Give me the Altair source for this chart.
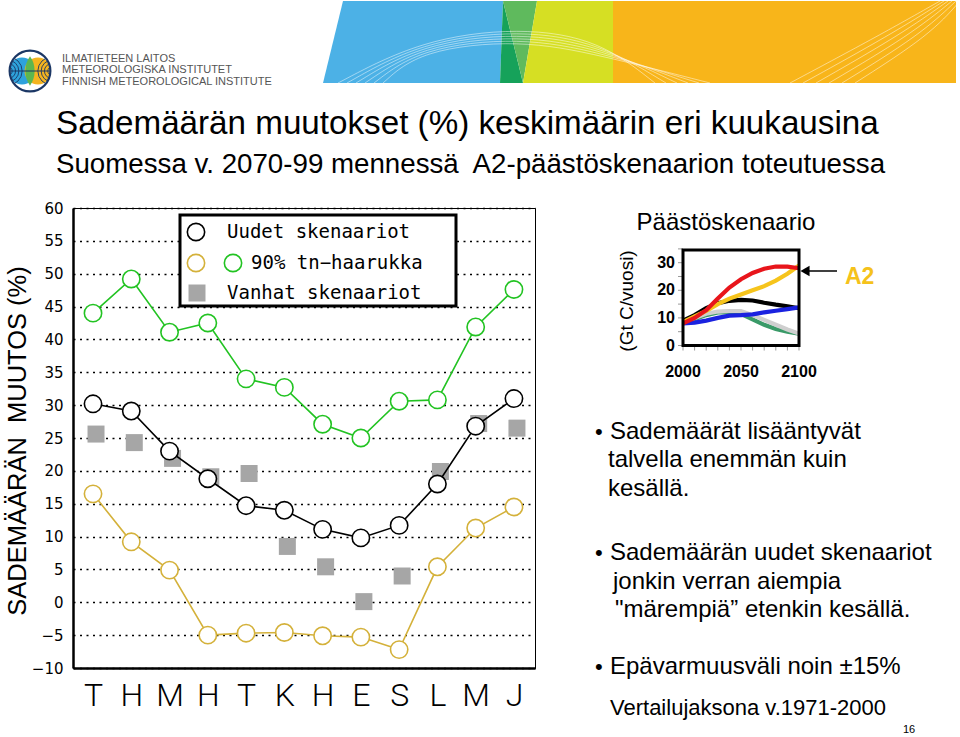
import json
import altair as alt
import pandas as pd

# ---------------- data ----------------
months = ["T", "H", "M", "H", "T", "K", "H", "E", "S", "L", "M", "J"]
month_num = list(range(1, 13))
new_scen = [30.2, 29.1, 23.0, 18.8, 14.7, 14.0, 11.1, 9.8, 11.7, 18.0, 26.8, 31.0]
upper90 = [44.0, 49.2, 41.1, 42.5, 34.0, 32.7, 27.1, 25.0, 30.6, 30.8, 41.9, 47.6]
lower90 = [16.5, 9.2, 4.9, -5.0, -4.7, -4.6, -5.1, -5.3, -7.2, 5.4, 11.3, 14.5]
old_scen = [25.6, 24.3, 21.9, 19.1, 19.6, 8.5, 5.4, 0.1, 4.0, 19.9, 27.2, 26.5]
y_ticks = list(range(-10, 61, 5))

years = [2000, 2010, 2020, 2030, 2040, 2050, 2060, 2070, 2080, 2090, 2100]
em_green = [8.5, 9.5, 11.0, 12.0, 12.0, 11.5, 9.5, 7.5, 6.0, 5.0, 4.3]
em_gray = [8.7, 10.0, 11.5, 12.3, 12.5, 12.5, 11.0, 9.3, 7.5, 5.8, 4.3]
em_black = [9.0, 11.0, 13.5, 15.3, 16.2, 16.5, 16.3, 15.5, 14.8, 14.2, 13.5]
em_blue = [8.0, 8.3, 9.0, 10.0, 10.8, 11.0, 11.3, 12.0, 12.6, 13.2, 13.8]
em_yellow = [8.5, 10.5, 12.5, 15.0, 17.0, 18.5, 20.0, 21.5, 23.5, 26.0, 29.0]
em_red = [8.0, 10.0, 12.8, 17.0, 21.0, 24.0, 26.3, 27.8, 28.6, 28.6, 28.0]
inset_y_ticks = [0, 10, 20, 30]
inset_minor_y = [0, 5, 10, 15, 20, 25, 30, 35]
inset_x_ticks = [2000, 2050, 2100]
inset_minor_x = [2000, 2010, 2020, 2030, 2040, 2050, 2060, 2070, 2080, 2090, 2100]

NB = "\u00a0"
title_lines = ["Sademäärän muutokset (%) keskimäärin eri kuukausina",
               "Suomessa v. 2070-99 mennessä" + NB + " A2-päästöskenaarion toteutuessa"]
y_title = "SADEMÄÄRÄN" + NB + " MUUTOS (%)"
legend_labels = ["Uudet skenaariot", "90% tn\u2212haarukka", "Vanhat skenaariot"]
bullet_lines = [
    ["Sademäärät lisääntyvät", "talvella enemmän kuin", "kesällä."],
    ["Sademäärän uudet skenaariot", "jonkin verran aiempia", "\"märempiä\u201d etenkin kesällä."],
    ["Epävarmuusväli noin ±15%"],
]
footnote = "Vertailujaksona v.1971-2000"
logo_lines = ["ILMATIETEEN LAITOS", "METEOROLOGISKA INSTITUTET", "FINNISH METEOROLOGICAL INSTITUTE"]

# ---------------- layout ----------------
X0, Y0 = 73, 208
W, H = 462, 460
SANS = "Liberation Sans, Arial, sans-serif"


def px(x):
    return x - X0


def py(y):
    return y - Y0


def one():
    return pd.DataFrame({"k": [0]})


def txt(text, x, y, size, font=SANS, weight="normal", color="black",
        align="left", baseline="middle", angle=0):
    kw = dict(align=align, baseline=baseline, fontSize=size, font=font,
              fontWeight=weight, color=color)
    if angle:
        kw["angle"] = angle
    return alt.Chart(pd.DataFrame({"t": [text]})).mark_text(**kw).encode(
        x=alt.value(px(x)), y=alt.value(py(y)), text="t:N")


def dot(x, y, size, **kw):
    return alt.Chart(one()).mark_point(opacity=1, size=size, **kw).encode(
        x=alt.value(px(x)), y=alt.value(py(y)))


pxs = alt.Scale(domain=[0, 960], range=[-X0, 960 - X0], nice=False, zero=False)
pys = alt.Scale(domain=[0, 737], range=[-Y0, 737 - Y0], nice=False, zero=False)

layers = []

# ---- banner ----
banner = pd.DataFrame({
    "shape": ["blue", "blue", "dgreen", "dgreen", "mgreen", "mgreen", "ygreen", "ygreen", "orange", "orange"],
    "y": [1, 83] * 5,
    "xl": [343, 323, 503, 500, 503, 523, 537, 523, 613, 613],
    "xr": [503, 500, 503, 523, 537, 523, 613, 613, 956, 956],
})
layers.append(alt.Chart(banner).mark_area(orient="horizontal", opacity=1).encode(
    y=alt.Y("y:Q", scale=pys, axis=None),
    x=alt.X("xl:Q", scale=pxs, axis=None),
    x2="xr:Q",
    color=alt.Color("shape:N", legend=None, scale=alt.Scale(
        domain=["blue", "dgreen", "mgreen", "ygreen", "orange"],
        range=["#4cb1e6", "#16a25a", "#5fba5d", "#d6df23", "#f8b51a"])),
))
wave_rows = []
for k in range(6):
    pts = [(338 + 9 * k, 83), (420, 40 + 2 * k), (520, 27 + 2.5 * k), (600, 40 + 3 * k), (655 + 11 * k, 83)]
    for j, (a, b) in enumerate(pts):
        wave_rows.append({"id": f"a{k}", "o": j, "x": a, "y": b})
    pts2 = [(790 + 13 * k, 83), (880 + 10 * k, 35), (940 + 4 * k, 1)]
    for j, (a, b) in enumerate(pts2):
        wave_rows.append({"id": f"b{k}", "o": j, "x": a, "y": b})
layers.append(alt.Chart(pd.DataFrame(wave_rows)).mark_line(
    interpolate="basis", color="white", strokeWidth=0.8, opacity=0.6).encode(
    x=alt.X("x:Q", scale=pxs, axis=None), y=alt.Y("y:Q", scale=pys, axis=None),
    detail="id:N", order="o:Q"))

# ---- logo ----
LX, LY = 30, 71
layers.append(dot(LX - 8, LY, 720, shape="circle", filled=True, color="#2ea2dc"))
layers.append(dot(LX + 8, LY, 720, shape="circle", filled=True, color="#f4b41f"))
layers.append(dot(LX, LY, 860, shape="M0,-1 C0.42,-0.45 0.42,0.45 0,1 C-0.42,0.45 -0.42,-0.45 0,-1 Z",
                  filled=True, color="#5db64f"))
for s in [70, 230, 470, 800]:
    layers.append(dot(LX - 22, LY, s, shape="circle", filled=False, color="#1b3765", strokeWidth=0.9))
    layers.append(dot(LX + 22, LY, s, shape="circle", filled=False, color="#1b3765", strokeWidth=0.9))
layers.append(alt.Chart(one()).mark_rule(color="#1b3765", strokeWidth=1).encode(
    x=alt.value(px(LX - 23)), x2=alt.value(px(LX + 23)), y=alt.value(py(LY))))
# white ring hides everything outside the logo circle
layers.append(dot(LX, LY, 3300, shape="circle", filled=False, color="white", strokeWidth=18))
layers.append(dot(LX, LY, 1660, shape="circle", filled=False, color="#1b3765", strokeWidth=2.2))
for i, t in enumerate(logo_lines):
    layers.append(txt(t, 62, 58.5 + 11.7 * i, 11, color="#555555"))

# ---- titles ----
layers.append(txt(title_lines[0], 56, 134, 33.2, baseline="alphabetic"))
layers.append(txt(title_lines[1], 56, 173, 27.7, baseline="alphabetic"))
layers.append(txt(y_title, 18, 441, 25.5, align="center", angle=270))

# ---- main chart ----
xs = alt.Scale(domain=[0.477, 12.55], nice=False, zero=False)
ys = alt.Scale(domain=[-10, 60], nice=False, zero=False)
label_expr = f"{json.dumps(months)}[datum.value - 1]"

sq = alt.Chart(pd.DataFrame({"m": month_num, "v": old_scen})).mark_square(
    size=289, color="#a6a6a6", opacity=1, xOffset=3).encode(
    x=alt.X("m:Q", scale=xs, axis=alt.Axis(
        values=month_num, labelExpr=label_expr, title=None, ticks=False, grid=False,
        domainColor="black", domainWidth=2.5, labelFont="Roboto", labelFontWeight=300,
        labelFontSize=32, labelColor="black", labelPadding=12, labelFlush=False)),
    y=alt.Y("v:Q", scale=ys, axis=alt.Axis(
        values=y_ticks, title=None, ticks=False, grid=True, gridColor="black",
        gridDash=[2, 4.5], gridWidth=1.3, domainColor="black", domainWidth=2.5,
        labelFont="DejaVu Sans", labelFontSize=15, labelColor="black", labelPadding=10,
        labelOverlap=False)),
)
layers.append(sq)

series = ["Uudet", "ylä", "ala"]
series_col = ["#000000", "#22c322", "#d4b13a"]
main_df = pd.DataFrame({
    "m": month_num * 3,
    "v": new_scen + upper90 + lower90,
    "s": [series[0]] * 12 + [series[1]] * 12 + [series[2]] * 12,
})
stroke_enc = alt.Stroke("s:N", legend=None, scale=alt.Scale(domain=series, range=series_col))
layers.append(alt.Chart(main_df).mark_line(strokeWidth=1.6).encode(
    x=alt.X("m:Q", scale=xs, axis=None), y=alt.Y("v:Q", scale=ys, axis=None), stroke=stroke_enc))
layers.append(alt.Chart(main_df).mark_point(
    shape="circle", size=300, filled=True, fill="white", strokeWidth=1.6, opacity=1).encode(
    x=alt.X("m:Q", scale=xs, axis=None), y=alt.Y("v:Q", scale=ys, axis=None), stroke=stroke_enc))

# ---- legend box ----
layers.append(alt.Chart(one()).mark_rect(fill="white", stroke="black", strokeWidth=3).encode(
    x=alt.value(px(180)), x2=alt.value(px(456)), y=alt.value(py(215)), y2=alt.value(py(306))))
layers.append(dot(196, 232, 300, shape="circle", filled=True, fill="white", stroke="black", strokeWidth=1.6))
layers.append(dot(196, 263, 300, shape="circle", filled=True, fill="white", stroke=series_col[2], strokeWidth=1.6))
layers.append(dot(233, 263, 300, shape="circle", filled=True, fill="white", stroke=series_col[1], strokeWidth=1.6))
layers.append(dot(197, 293, 289, shape="square", filled=True, color="#a6a6a6"))
MONO = "DejaVu Sans Mono, monospace"
layers.append(txt(legend_labels[0], 227, 232, 19, font=MONO))
layers.append(txt(legend_labels[1], 251, 263, 19, font=MONO))
layers.append(txt(legend_labels[2], 227, 293, 19, font=MONO))

# ---- inset emission chart ----
ixs = alt.Scale(domain=[2000, 2100], range=[px(683), px(799)], nice=False, zero=False)
iys = alt.Scale(domain=[0, 34.6], range=[py(345.5), py(250)], nice=False, zero=False)

layers.append(alt.Chart(pd.DataFrame({"v": inset_minor_y})).mark_rule(color="#999999", strokeWidth=1).encode(
    y=alt.Y("v:Q", scale=iys, axis=None), x=alt.value(px(678)), x2=alt.value(px(683))))
layers.append(alt.Chart(pd.DataFrame({"v": inset_minor_x})).mark_rule(color="#999999", strokeWidth=1).encode(
    x=alt.X("v:Q", scale=ixs, axis=None), y=alt.value(py(345.5)), y2=alt.value(py(350.5))))

for vals, col in [(em_green, "#3a9a68"), (em_gray, "#cfcfcf"), (em_black, "#000000"),
                  (em_blue, "#1a22e0"), (em_yellow, "#f6c41c"), (em_red, "#e8151b")]:
    layers.append(alt.Chart(pd.DataFrame({"yr": years, "v": vals})).mark_line(
        color=col, strokeWidth=4.2).encode(
        x=alt.X("yr:Q", scale=ixs, axis=None), y=alt.Y("v:Q", scale=iys, axis=None)))

layers.append(alt.Chart(one()).mark_rect(fill="transparent", stroke="black", strokeWidth=3).encode(
    x=alt.value(px(683)), x2=alt.value(px(799)), y=alt.value(py(250)), y2=alt.value(py(345.5))))
layers.append(alt.Chart(pd.DataFrame({"v": inset_y_ticks})).mark_text(
    align="right", baseline="middle", fontSize=16, fontWeight="bold", font=SANS, color="black").encode(
    y=alt.Y("v:Q", scale=iys, axis=None), x=alt.value(px(675)), text="v:Q"))
layers.append(alt.Chart(pd.DataFrame({"v": inset_x_ticks})).mark_text(
    align="center", baseline="middle", fontSize=16, fontWeight="bold", font=SANS, color="black").encode(
    x=alt.X("v:Q", scale=ixs, axis=None), y=alt.value(py(372)), text="v:Q"))
layers.append(txt("Päästöskenaario", 726, 223, 24, align="center"))
layers.append(txt("(Gt C/vuosi)", 627, 301, 19, align="center", angle=270))
layers.append(alt.Chart(one()).mark_rule(color="black", strokeWidth=1.5).encode(
    x=alt.value(px(808)), x2=alt.value(px(837)), y=alt.value(py(271))))
layers.append(dot(805, 271, 110, shape="triangle-left", filled=True, color="black"))
layers.append(txt("A2", 845, 277, 23, weight="bold", color="#f5c21b"))

# ---- bullets ----
starts = [431.7, 553.0, 666.7]
for b, lines in enumerate(bullet_lines):
    layers.append(txt("\u2022", 595, starts[b], 22))
    for i, t in enumerate(lines):
        xoff = 610 if i == 0 else (608 if b == 0 else 613 + 2 * (i - 1))
        layers.append(txt(t, xoff, starts[b] + 28.5 * i, 24))
layers.append(txt(footnote, 610, 708, 22))
layers.append(txt("16", 903, 730, 11))

chart = alt.layer(*layers).resolve_scale(
    x="independent", y="independent", color="independent", stroke="independent"
).properties(
    width=W, height=H,
    padding={"left": X0, "top": Y0, "right": 960 - X0 - W, "bottom": 737 - Y0 - H},
    autosize=alt.AutoSizeParams(type="none"),
    background="white",
).configure_view(stroke="black", strokeWidth=1)

chart.save("out.html", embed_options={"renderer": "svg", "actions": False})
